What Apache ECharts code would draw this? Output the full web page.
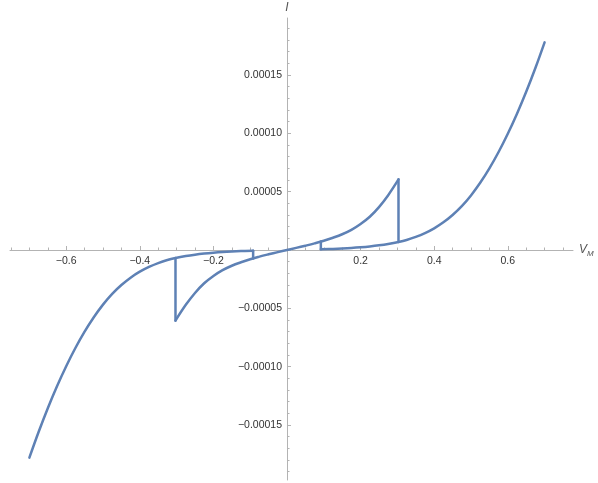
<!DOCTYPE html>
<html><head><meta charset="utf-8">
<script src="https://cdn.jsdelivr.net/npm/echarts@6/dist/echarts.min.js"></script>
<style>html,body{margin:0;padding:0;background:#fff}#c{width:598px;height:483px}</style>
</head><body><div id="c"></div>
<script>
// High-conductance branch (through the origin)
const highV = [-0.303, -0.275, -0.25, -0.225, -0.2, -0.175, -0.15, -0.125, -0.1, -0.075, -0.05, -0.025, 0,
               0.025, 0.05, 0.075, 0.1, 0.125, 0.15, 0.175, 0.2, 0.225, 0.25, 0.275, 0.303];
const highI = [-6.05e-5, -4.7e-5, -3.68e-5, -2.85e-5, -2.23e-5, -1.73e-5, -1.35e-5, -1.05e-5, -7.9e-6, -5.7e-6, -3.7e-6, -1.8e-6, 0,
               1.8e-6, 3.7e-6, 5.7e-6, 7.9e-6, 1.05e-5, 1.35e-5, 1.73e-5, 2.23e-5, 2.85e-5, 3.68e-5, 4.7e-5, 6.05e-5];
// Low-conductance branch, positive side
const lowPosV = [0.092, 0.125, 0.15, 0.175, 0.2, 0.225, 0.25, 0.275, 0.303, 0.325, 0.35, 0.375, 0.4, 0.425, 0.45,
                 0.475, 0.5, 0.525, 0.55, 0.575, 0.6, 0.625, 0.65, 0.675, 0.7];
const lowPosI = [0.58e-6, 0.9e-6, 1.25e-6, 1.7e-6, 2.3e-6, 3.05e-6, 4.0e-6, 5.2e-6, 6.9e-6, 8.6e-6, 1.12e-5, 1.45e-5, 1.86e-5, 2.37e-5, 3.0e-5,
                 3.76e-5, 4.68e-5, 5.76e-5, 7.0e-5, 8.4e-5, 9.96e-5, 1.168e-4, 1.356e-4, 1.56e-4, 1.78e-4];
// Low-conductance branch, negative side
const lowNegV = [-0.7, -0.675, -0.65, -0.625, -0.6, -0.575, -0.55, -0.525, -0.5, -0.475, -0.45, -0.425, -0.4, -0.375,
                 -0.35, -0.325, -0.303, -0.275, -0.25, -0.225, -0.2, -0.175, -0.15, -0.125, -0.092];
const lowNegI = [-1.78e-4, -1.56e-4, -1.356e-4, -1.168e-4, -9.96e-5, -8.4e-5, -7.0e-5, -5.76e-5, -4.68e-5, -3.76e-5, -3.0e-5, -2.37e-5, -1.86e-5, -1.45e-5,
                 -1.12e-5, -8.6e-6, -6.9e-6, -5.2e-6, -4.0e-6, -3.05e-6, -2.3e-6, -1.7e-6, -1.25e-6, -0.9e-6, -0.58e-6];
// Switching jumps (vertical segments)
const switchV = [0.303, 0.092, -0.303, -0.092];
const switchFromI = [6.05e-5, 0.58e-6, -6.05e-5, -0.58e-6];
const switchToI = [6.9e-6, 7.3e-6, -6.9e-6, -7.3e-6];
// Ticks
const xMajorTicks = [-0.6, -0.4, -0.2, 0.2, 0.4, 0.6];
const xMinorTicks = [-0.75, -0.7, -0.65, -0.55, -0.5, -0.45, -0.35, -0.3, -0.25, -0.15, -0.1, -0.05,
                     0.05, 0.1, 0.15, 0.25, 0.3, 0.35, 0.45, 0.5, 0.55, 0.65, 0.7, 0.75];
const yMajorTicks = [-1.5e-4, -1.0e-4, -5e-5, 5e-5, 1.0e-4, 1.5e-4];
const yMinorTicks = [-1.9e-4, -1.8e-4, -1.7e-4, -1.6e-4, -1.4e-4, -1.3e-4, -1.2e-4, -1.1e-4,
                     -9e-5, -8e-5, -7e-5, -6e-5, -4e-5, -3e-5, -2e-5, -1e-5,
                     1e-5, 2e-5, 3e-5, 4e-5, 6e-5, 7e-5, 8e-5, 9e-5,
                     1.1e-4, 1.2e-4, 1.3e-4, 1.4e-4, 1.6e-4, 1.7e-4, 1.8e-4, 1.9e-4];

const zip = (a, b) => a.map((v, i) => [v, b[i]]);
const COLOR = '#5E81B5';
const AXIS = '#b3b3b3';
const FONT = 'Liberation Sans, Arial, sans-serif';
const lineStyle = { color: COLOR, width: 2.5, cap: 'round', join: 'round' };
const minus = s => s.replace('-', '\u2212');
const GRID = { left: 10, right: 25, top: 18, bottom: 3 };
const X_LABEL_GAP = 6, Y_LABEL_GAP = 5;

const series = [
  { type: 'line', data: zip(highV, highI), smooth: 0.4, showSymbol: false, lineStyle },
  { type: 'line', data: zip(lowPosV, lowPosI), smooth: 0.4, showSymbol: false, lineStyle },
  { type: 'line', data: zip(lowNegV, lowNegI), smooth: 0.4, showSymbol: false, lineStyle }
];
switchV.forEach((v, i) => {
  series.push({ type: 'line', data: [[v, switchFromI[i]], [v, switchToI[i]]], showSymbol: false, lineStyle });
});

const chart = echarts.init(document.getElementById('c'), null, { renderer: 'canvas' });
chart.setOption({
  animation: false,
  backgroundColor: '#fff',
  grid: Object.assign({ containLabel: false, outerBoundsMode: 'none' }, GRID),
  xAxis: [
    {
      type: 'value', min: -0.7527, max: 0.7772, position: 'bottom',
      name: '{v|V}{m|M}', nameLocation: 'end', nameGap: 6,
      nameTextStyle: { rich: {
        v: { fontStyle: 'italic', fontSize: 12, color: '#555', fontFamily: FONT },
        m: { fontStyle: 'italic', fontSize: 8, color: '#555', fontFamily: FONT, padding: [7, 0, 0, 0] }
      } },
      axisLine: { onZero: true, onZeroAxisIndex: 0, lineStyle: { color: AXIS, width: 1 } },
      axisTick: { show: true, inside: true, length: 4, customValues: xMajorTicks, lineStyle: { color: AXIS } },
      axisLabel: { customValues: xMajorTicks, margin: X_LABEL_GAP, fontSize: 10.5, color: '#333', fontFamily: FONT,
                   formatter: v => minus(String(Math.round(v * 10) / 10)) },
      splitLine: { show: false }
    },
    {
      type: 'value', min: -0.7527, max: 0.7772, position: 'bottom',
      axisLine: { show: false, onZero: true, onZeroAxisIndex: 0 },
      axisTick: { show: true, inside: true, length: 2.5, customValues: xMinorTicks, lineStyle: { color: AXIS } },
      axisLabel: { show: false },
      splitLine: { show: false }
    }
  ],
  yAxis: [
    {
      type: 'value', min: -1.9714e-4, max: 1.9886e-4, position: 'left',
      name: 'I', nameLocation: 'end', nameGap: 4,
      nameTextStyle: { fontStyle: 'italic', fontSize: 12, color: '#555', fontFamily: FONT },
      axisLine: { onZero: true, onZeroAxisIndex: 0, lineStyle: { color: AXIS, width: 1 } },
      axisTick: { show: true, inside: true, length: 4, customValues: yMajorTicks, lineStyle: { color: AXIS } },
      axisLabel: { customValues: yMajorTicks, margin: Y_LABEL_GAP, fontSize: 10.5, color: '#333', fontFamily: FONT,
                   formatter: v => minus(v.toFixed(5)) },
      splitLine: { show: false }
    },
    {
      type: 'value', min: -1.9714e-4, max: 1.9886e-4, position: 'left',
      axisLine: { show: false, onZero: true, onZeroAxisIndex: 0 },
      axisTick: { show: true, inside: true, length: 2.5, customValues: yMinorTicks, lineStyle: { color: AXIS } },
      axisLabel: { show: false },
      splitLine: { show: false }
    }
  ],
  series
});

// The labels of an on-zero axis are laid out at the grid edge; pull them back next to the axis lines.
const origin = chart.convertToPixel({ gridIndex: 0 }, [0, 0]);
const H = chart.getHeight();
const gridBottom = H - GRID.bottom, gridLeft = GRID.left;
chart.setOption({
  xAxis: [{ axisLabel: { margin: X_LABEL_GAP - (gridBottom - origin[1]) } }, {}],
  yAxis: [{ axisLabel: { margin: Y_LABEL_GAP - (origin[0] - gridLeft) } }, {}]
});
</script>
</body></html>
